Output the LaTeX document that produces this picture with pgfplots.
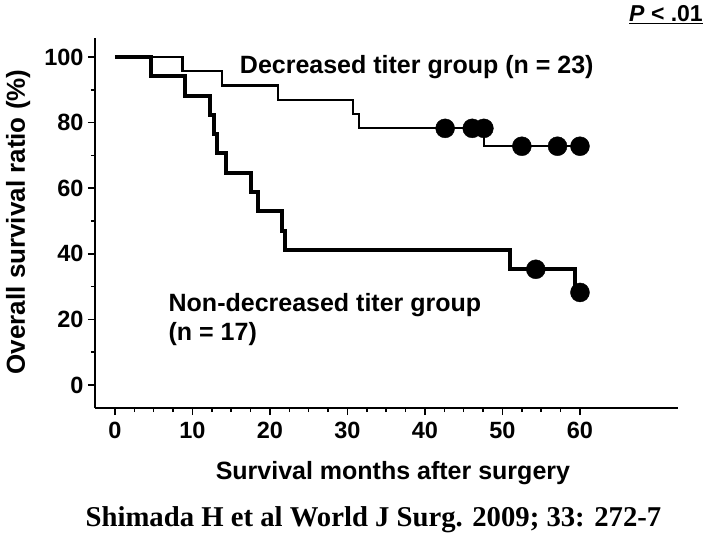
\documentclass[border=0pt]{standalone}
\usepackage{fontspec}
\setmainfont{Liberation Sans}
\newfontfamily\timesfont{Liberation Serif}
\usepackage{pgfplots}
\pgfplotsset{compat=1.18}
\begin{document}
\begin{tikzpicture}
\useasboundingbox (-95pt,-128pt) rectangle (614pt,408pt);
\begin{axis}[
  at={(0pt,0pt)}, anchor=south west,
  scale only axis, width=583pt, height=370pt,
  xmin=-2.58, xmax=72.65, ymin=-7.0, ymax=105.8,
  axis x line*=bottom, axis y line*=left,
  axis line style={line width=1.7pt, -},
  xtick={0,10,20,30,40,50,60},
  minor xtick={2.5,5,7.5,12.5,15,17.5,22.5,25,27.5,32.5,35,37.5,42.5,45,47.5,52.5,55,57.5},
  ytick={0,20,40,60,80,100},
  minor ytick={10,30,50,70,90},
  tick align=outside, major tick length=7pt, minor tick length=4pt,
  every tick/.style={line width=1.5pt, black},
  /pgf/number format/assume math mode=true,
  ticklabel style={font=\fontsize{23.5}{23.5}\selectfont\bfseries},
  xticklabel style={yshift=-4pt},
  yticklabel style={xshift=-1pt},
  xlabel={Survival months after surgery},
  ylabel={Overall survival ratio (\%)},
  every axis x label/.style={at={(axis description cs:0.511,-0.192)}, anchor=base, font=\fontsize{25}{25}\selectfont\bfseries},
  every axis y label/.style={at={(axis description cs:-0.132,0.503)}, anchor=center, rotate=90, font=\fontsize{26}{26}\selectfont\bfseries},
  clip=false,
]
% Decreased titer group (n = 23)
\addplot[const plot mark left, line width=2.2pt, black, line join=miter] coordinates {
  (0,100) (8.7,95.65) (13.8,91.30) (21.0,86.96) (30.7,82.61) (31.5,78.26) (47.6,72.8) (60,72.8)
};
% Non-decreased titer group (n = 17)
\addplot[const plot mark left, line width=4pt, black, line join=miter] coordinates {
  (0,100) (4.6,94.12) (9.0,88.24) (12.3,82.35) (12.8,76.47) (13.1,70.59) (14.3,64.71)
  (17.6,58.82) (18.5,52.94) (21.5,47.06) (21.9,41.18) (51.0,35.29) (59.4,28.24) (60,28.24)
};
% censored marks
\addplot[only marks, mark=*, mark size=9.5pt, black] coordinates {
  (42.6,78.26) (46.1,78.26) (47.6,78.26) (52.5,72.8) (57.1,72.8) (60.0,72.8)
};
\addplot[only marks, mark=*, mark size=9.5pt, black] coordinates {
  (54.3,35.29) (60,28.24)
};
\node[anchor=base west, inner sep=0pt, font=\fontsize{25}{25}\selectfont\bfseries] at (axis cs:16.1,95.0) {Decreased titer group (n = 23)};
\node[anchor=base west, inner sep=0pt, font=\fontsize{25}{25}\selectfont\bfseries] at (axis cs:6.9,22.3) {Non-decreased titer group};
\node[anchor=base west, inner sep=0pt, font=\fontsize{25}{25}\selectfont\bfseries] at (axis cs:6.9,13.7) {(n = 17)};
\end{axis}
\node[anchor=base east, inner sep=0pt, font=\fontsize{23}{23}\selectfont\bfseries] at (608pt,386.3pt) {\underline{\textit{P} < .01}};
\node[anchor=base, inner sep=0pt, font=\timesfont\bfseries\fontsize{28.7}{28.7}\selectfont] at (278.5pt,-118.7pt) {Shimada H et al World J Surg. 2009; 33: 272-7};
\end{tikzpicture}
\end{document}
